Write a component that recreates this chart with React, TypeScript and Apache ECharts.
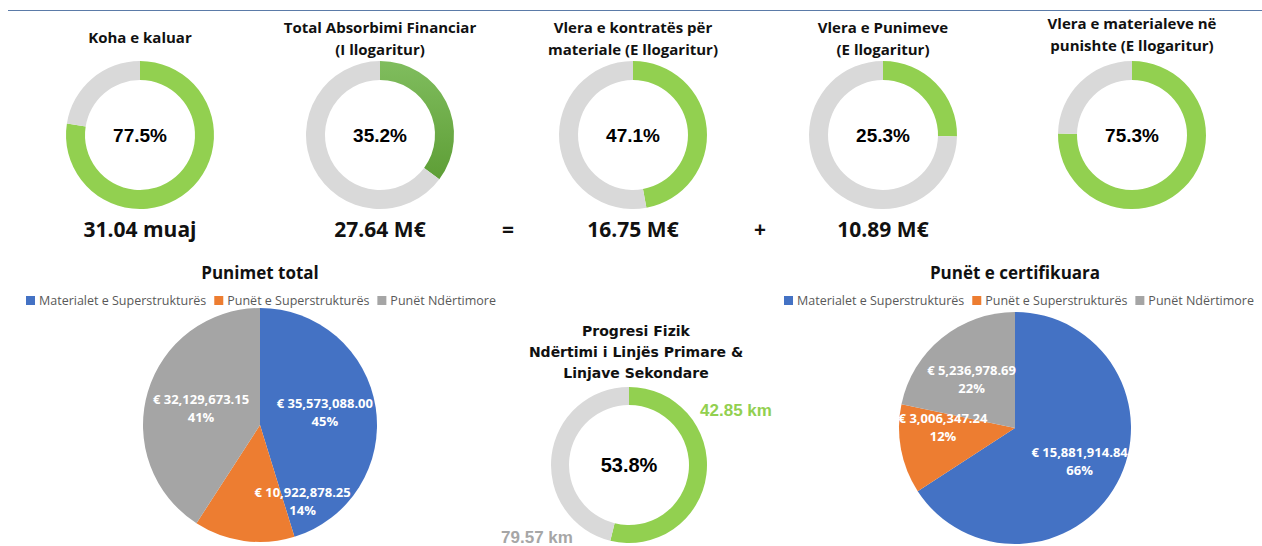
import React, { useEffect, useRef } from "react";
import * as echarts from "echarts";

// ---- Data ----
const donutTitles = [
  "Koha e kaluar",
  "Total Absorbimi Financiar\n(I llogaritur)",
  "Vlera e kontratës për\nmateriale (E llogaritur)",
  "Vlera e Punimeve\n(E llogaritur)",
  "Vlera e materialeve në\npunishte (E llogaritur)",
];
const donutValues = [77.5, 35.2, 47.1, 25.3, 75.3];
const summaryValues = [31.04, 27.64, 16.75, 10.89];
const summaryUnits = ["muaj", "M€", "M€", "M€"];
const operators = ["=", "+"];

const pieCategories = ["Materialet e Superstrukturës", "Punët e Superstrukturës", "Punët Ndërtimore"];
const totalWorks = [35573088.0, 10922878.25, 32129673.15];
const certifiedWorks = [15881914.84, 3006347.24, 5236978.69];

const progressTitle = "Progresi Fizik\nNdërtimi i Linjës Primare &\nLinjave Sekondare";
const progressDoneKm = 42.85;
const progressTotalKm = 79.57;
const progressPercent = 53.8;

// ---- Styles / layout ----
const GREEN = "#92d050";
const LIGHT_GRAY = "#d9d9d9";
const PIE_COLORS = ["#4472c4", "#ed7d31", "#a5a5a5"];
const TOP_X = [140, 380, 633, 883, 1132];
const TOP_Y = 135;
const OP_X = [508, 760];

export default function App() {
  const ref = useRef<HTMLDivElement>(null);
  useEffect(() => {
    if (!ref.current) return;
    const chart = echarts.init(ref.current, null, { renderer: "svg" });

    const topSeries: any[] = donutValues.map((v, i) => ({
      type: "pie",
      silent: true,
      radius: [55, 74],
      center: [TOP_X[i], TOP_Y],
      startAngle: 90,
      clockwise: true,
      label: { show: false },
      labelLine: { show: false },
      data: [
        {
          value: v,
          name: "done" + i,
          itemStyle: {
            color:
              i === 1
                ? new echarts.graphic.LinearGradient(0, 0, 0, 1, [
                    { offset: 0, color: "#80bd5e" },
                    { offset: 1, color: "#5e9e36" },
                  ])
                : GREEN,
          },
          label: {
            show: true,
            position: "center",
            formatter: () => `${v.toFixed(1)}%`,
            fontFamily: "Liberation Sans",
            fontWeight: "bold",
            fontSize: 19,
            color: "#000",
          },
        },
        { value: 100 - v, name: "rest" + i, itemStyle: { color: LIGHT_GRAY } },
      ],
    }));

    const pieLabelFmt = (p: any) =>
      `€ ${p.value.toLocaleString("en-US", { minimumFractionDigits: 2, maximumFractionDigits: 2 })}\n${Math.round(p.percent)}%`;

    const leftOffsets = [
      [4, -4],
      [51, 15],
      [0, 0],
    ];
    const rightOffsets = [
      [11, 4],
      [-12, -12],
      [-5, -2],
    ];

    const pieSeries = (values: number[], center: number[], r: number, offs: number[][]) => ({
      type: "pie",
      silent: true,
      radius: [0, r],
      center,
      startAngle: 90,
      clockwise: true,
      data: values.map((v, i) => ({ value: v, name: pieCategories[i], itemStyle: { color: PIE_COLORS[i] } })),
      label: {
        show: true,
        position: "inside",
        formatter: pieLabelFmt,
        color: "#fff",
        fontFamily: "Open Sans",
        fontWeight: "bold",
        fontSize: 13,
        lineHeight: 18,
        align: "center",
      },
      labelLine: { show: false },
      labelLayout: (params: any) => ({ dx: offs[params.dataIndex][0], dy: offs[params.dataIndex][1] }),
    });

    const progressSeries = {
      type: "pie",
      silent: true,
      radius: [60, 78],
      center: [629, 465],
      startAngle: 90,
      clockwise: true,
      labelLine: { show: false },
      label: { show: false },
      data: [
        {
          value: progressDoneKm,
          name: "km done",
          itemStyle: { color: GREEN },
          label: {
            show: true,
            position: "center",
            formatter: () => `${progressPercent.toFixed(1)}%`,
            fontFamily: "Liberation Sans",
            fontWeight: "bold",
            fontSize: 20,
            color: "#000",
          },
        },
        { value: progressTotalKm - progressDoneKm, name: "km rest", itemStyle: { color: LIGHT_GRAY } },
      ],
    };

    const txt = (x: number, y: number, text: string, font: any) => ({
      type: "text",
      x,
      y,
      silent: true,
      style: {
        text,
        align: "center",
        verticalAlign: "middle",
        textAlign: "center",
        textVerticalAlign: "middle",
        ...font,
      },
    });

    const titleFont = { fontFamily: "Open Sans", fontWeight: "bold", fontSize: 15, lineHeight: 22, fill: "#111" };
    const valFont = { fontFamily: "Open Sans", fontWeight: "bold", fontSize: 21, fill: "#111" };
    const pieTitleFont = { fontFamily: "Open Sans", fontWeight: "bold", fontSize: 17, fill: "#111" };

    const graphics: any[] = [
      { type: "line", silent: true, shape: { x1: 8, y1: 10.5, x2: 1262, y2: 10.5 }, style: { stroke: "#5b7ba8", lineWidth: 1 } },
    ];
    donutTitles.forEach((t, i) => {
      const lines = t.split("\n").length;
      const y = lines === 1 ? 37 : i === 4 ? 34 : 38;
      graphics.push(txt(TOP_X[i], y, t, titleFont));
    });
    summaryValues.forEach((v, i) => {
      graphics.push(txt(TOP_X[i], 229, `${v.toFixed(2)} ${summaryUnits[i]}`, valFont));
    });
    operators.forEach((o, i) => graphics.push(txt(OP_X[i], 229, o, valFont)));
    graphics.push(txt(260, 272, "Punimet total", pieTitleFont));
    graphics.push(txt(1015, 272, "Punët e certifikuara", pieTitleFont));
    graphics.push(
      txt(636, 352, progressTitle, { fontFamily: "DejaVu Sans", fontWeight: "bold", fontSize: 14, lineHeight: 21, fill: "#111" })
    );
    graphics.push(
      txt(736, 410, `${progressDoneKm.toFixed(2)} km`, { fontFamily: "Liberation Sans", fontWeight: "bold", fontSize: 17, fill: GREEN })
    );
    graphics.push(
      txt(537, 537, `${progressTotalKm.toFixed(2)} km`, { fontFamily: "Liberation Sans", fontWeight: "bold", fontSize: 17, fill: "#a6a6a6" })
    );

    const legendBase = {
      data: pieCategories,
      orient: "horizontal",
      width: 600,
      itemWidth: 9,
      itemHeight: 9,
      itemGap: 8,
      icon: "rect",
      selectedMode: false,
      textStyle: { fontFamily: "Open Sans", fontSize: 12.5, color: "#595959", padding: [0, 0, 0, -1] },
    };

    chart.setOption({
      animation: false,
      backgroundColor: "#fff",
      legend: [
        { ...legendBase, left: 21, top: 289 },
        { ...legendBase, left: 779, top: 289 },
      ],
      graphic: graphics,
      series: [
        ...topSeries,
        pieSeries(totalWorks, [260, 425], 117, leftOffsets),
        pieSeries(certifiedWorks, [1015, 428], 116, rightOffsets),
        progressSeries,
      ],
    });

    return () => chart.dispose();
  }, []);

  return <div ref={ref} style={{ position: "absolute", left: 0, top: 0, width: 1262, height: 546 }} />;
}
